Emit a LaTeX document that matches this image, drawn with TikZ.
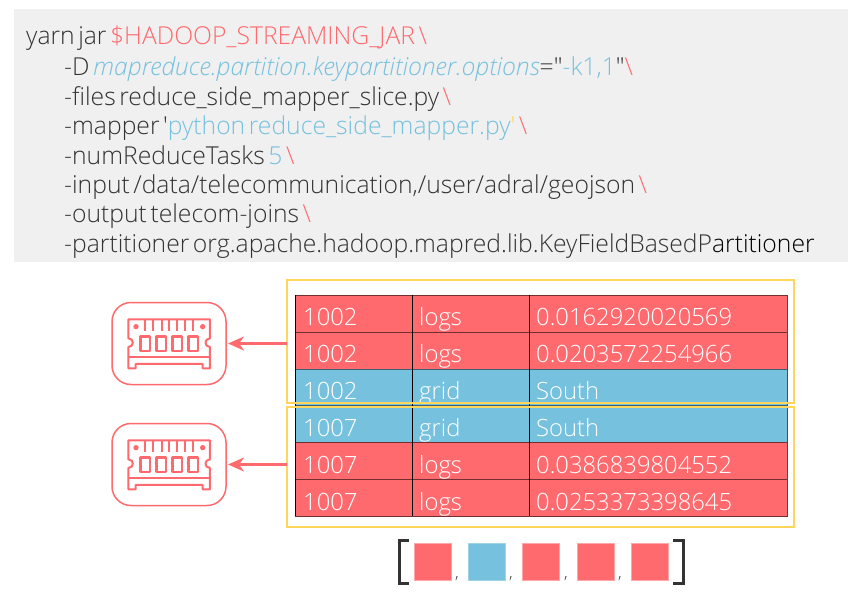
\documentclass[tikz,border=0pt]{standalone}
\usepackage{fontspec}
\setmainfont{Open Sans Light}
\newfontfamily\plainface[WordSpace=0.55]{Open Sans Light}
\usetikzlibrary{arrows.meta}
\definecolor{cred}{HTML}{FF6A6E}
\definecolor{cblue}{HTML}{76C1DE}
\definecolor{cyel}{HTML}{FFD55C}
\definecolor{cgray}{HTML}{F0F0F0}
\definecolor{cink}{HTML}{333333}
\newcommand\codefont{\plainface\fontsize{24.7}{25}\selectfont}
\tikzset{
 x=1pt,y=-1pt,
 code/.style={anchor=base west,inner sep=0pt,text=cink,font=\codefont},
 cell/.style={anchor=base west,inner sep=0pt,text=white,font=\fontsize{23.8}{24}\selectfont},
 rowr/.style={fill=cred,draw=black!55!cred,line width=1pt},
 rowb/.style={fill=cblue,draw=black!50!cblue,line width=1pt},
 yel/.style={draw=cyel,line width=1.6pt,inner sep=0pt,outer sep=0pt},
 ramline/.style={draw=cred,line width=2pt,line join=round},
 ramrect/.style={draw=cred,line width=1.5pt,outer sep=0pt,rounded corners=19pt,minimum width=114pt,minimum height=82pt,anchor=north west},
 link/.style={draw=cred,line width=2.8pt,-{Stealth[length=16pt,width=14pt,inset=5pt]}},
 sq/.style={inner sep=0pt,outer sep=0pt,minimum size=37pt,draw=white!40!cred,line width=.6pt,fill=cred},
 sqb/.style={inner sep=0pt,outer sep=0pt,minimum size=37pt,draw=white!30!cblue,line width=.6pt,fill=cblue},
 comma/.style={anchor=base,inner sep=0pt,text=cink,font=\fontsize{17}{17}\selectfont},
 ram/.pic={
  \begin{scope}[x=.3333pt,y=-.3333pt]
  \draw[ramline] (85,88)--(330,88)--(330,145) .. controls (312,145) and (312,171) .. (330,171)--(330,235)--(308,235)--(308,222)--(107,222)--(107,235)--(85,235)--(85,171) .. controls (103,171) and (103,145) .. (85,145)--cycle;
  \draw[ramline] (85,200)--(330,200);
  \foreach \tx in {135,160,185,208,232,256,280}{\draw[ramline] (\tx,88)--(\tx,122);}
  \foreach \tx in {122,170,218,266}{\draw[ramline,line width=2.4pt] (\tx,140) rectangle ++(28,43);}
  \fill[cred] (108,110) circle[radius=8];
  \fill[cred] (308,110) circle[radius=8];
  \end{scope}
 }
}
\begin{document}
\begin{tikzpicture}
\useasboundingbox (0,0) rectangle (848,610);
\fill[cgray] (14,9) rectangle (848,262);
\node[code] (l1) at (26,45) {yarn jar \textcolor{cred}{\$HADOOP\_STREAMING\_JAR \textbackslash}};
\node[code] (l2) at (64,75) {-D \textcolor{cblue}{\textit{mapreduce.partition.keypartitioner.options}}="\textcolor{cblue}{-k1,1}"\textcolor{cred}{\textbackslash}};
\node[code] (l3) at (64,105) {-files reduce\_side\_mapper\_slice.py \textcolor{cred}{\textbackslash}};
\node[code] (l4) at (64,134) {-mapper '\textcolor{cblue}{python reduce\_side\_mapper.py}\textcolor{cyel}{'} \textcolor{cred}{\textbackslash}};
\node[code] (l5) at (64,164) {-numReduceTasks \textcolor{cblue}{5} \textcolor{cred}{\textbackslash}};
\node[code] (l6) at (64,193) {-input /data/telecommunication,/user/adral/geojson \textcolor{cred}{\textbackslash}};
\node[code] (l7) at (64,222) {-output telecom-joins \textcolor{cred}{\textbackslash}};
\node[code] (l8) at (64,252) {-partitioner org.apache.hadoop.mapred.lib.KeyFieldBasedP\textcolor{black}{artitioner}};
% table
\foreach \ya/\yb/\st in {295/332/rowr,332/369/rowr,369/405/rowb,405/442/rowb,442/479/rowr,479/516/rowr}{
 \path[\st] (295,\ya) rectangle (787,\yb);
}
\foreach \yy/\aa/\bb/\cc in {325/1002/logs/0.0162920020569,362/1002/logs/0.0203572254966,399/1002/grid/South,436/1007/grid/South,473/1007/logs/0.0386839804552,510/1007/logs/0.0253373398645}{
 \node[cell] at (303,\yy) {\aa};
 \node[cell] at (419,\yy) {\bb};
 \node[cell] at (536,\yy) {\cc};
}
\fill[cblue] (295,403.5) rectangle (787,405);
\draw[black!50!cblue,line width=1pt] (295,405)--(787,405);
\draw[black,line width=.9pt] (295,295)--(295,516) (412,295)--(412,516) (529,295)--(529,516);
\draw[black!70,line width=.9pt] (787,295)--(787,516);
\node[yel,minimum width=507pt,minimum height=123pt,anchor=north west] (yb1) at (287,280) {};
\node[yel,minimum width=507pt,minimum height=120pt,anchor=north west] (yb2) at (287,407) {};
% ram boxes
\node[ramrect] (r1) at (112,302.5) {};
\node[ramrect] (r2) at (112,423.5) {};
\pic at (100,290) {ram};
\pic at (100,411) {ram};
\draw[link] (yb1.west |- r1.east) -- ([xshift=2pt]r1.east);
\draw[link] (yb2.west |- r2.east) -- ([xshift=2pt]r2.east);
% list
\node[sq,anchor=north west] (s1) at (414,543) {};
\node[sqb,anchor=north west] (s2) at (468,543) {};
\node[sq,anchor=north west] (s3) at (522,543) {};
\node[sq,anchor=north west] (s4) at (577,543) {};
\node[sq,anchor=north west] (s5) at (631,543) {};
\node[comma] at (457,578) {,};
\node[comma] at (511,578) {,};
\node[comma] at (566,578) {,};
\node[comma] at (620,578) {,};
\draw[cink,line width=3pt] (409,540)--(399,540)--(399,583)--(409,583);
\draw[cink,line width=3pt] (673,540)--(683,540)--(683,583)--(673,583);
\end{tikzpicture}
\end{document}
